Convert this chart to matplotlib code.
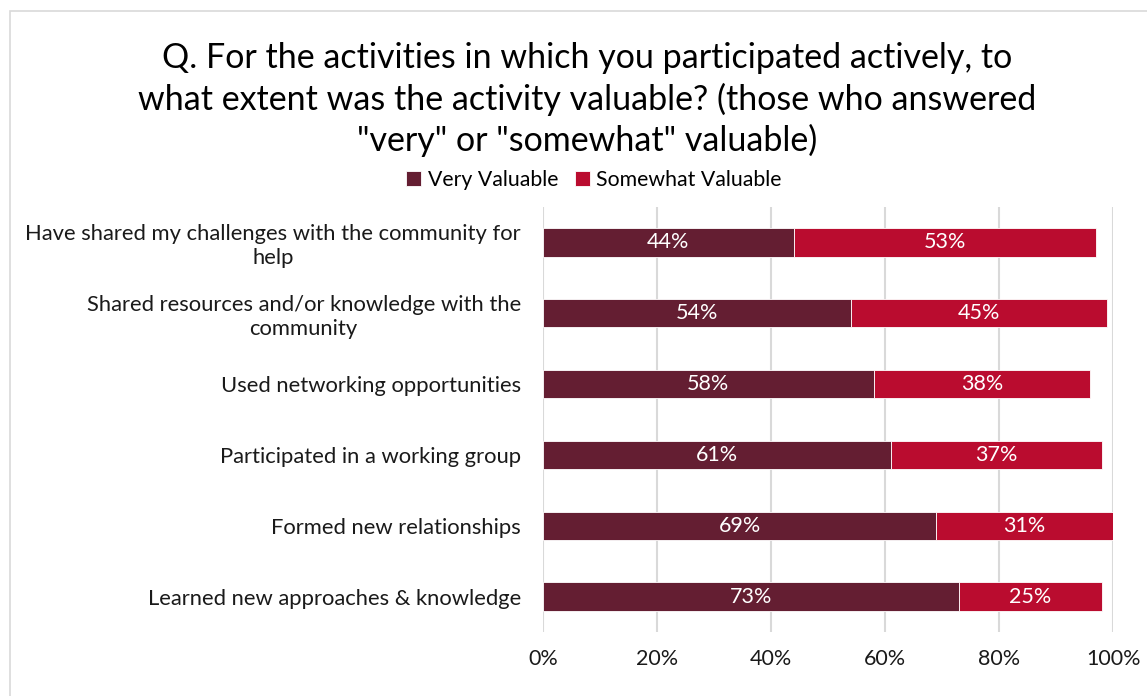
import matplotlib
matplotlib.use("Agg")
import matplotlib.pyplot as plt
from matplotlib.patches import Rectangle

categories = [
    "Have shared my challenges with the community for\nhelp",
    "Shared resources and/or knowledge with the\ncommunity",
    "Used networking opportunities",
    "Participated in a working group",
    "Formed new relationships",
    "Learned new approaches & knowledge",
]
very_valuable = [44, 54, 58, 61, 69, 73]
somewhat_valuable = [53, 45, 38, 37, 31, 25]
series_names = ["Very Valuable", "Somewhat Valuable"]
x_ticks = [0, 20, 40, 60, 80, 100]
x_tick_labels = ["0%", "20%", "40%", "60%", "80%", "100%"]
title = ('Q. For the activities in which you participated actively, to\n'
         'what extent was the activity valuable? (those who answered\n'
         '"very" or "somewhat" valuable)')

plt.rcParams['font.family'] = ['Lato', 'DejaVu Sans']
dark = "#641E32"
red = "#BA0C2F"
text_color = "#1a1a1a"

fig = plt.figure(figsize=(11.47, 6.96), dpi=100)
fig.patch.set_facecolor("white")
fig.patches.append(Rectangle((10 / 1147, -0.05), 1.2, 1 - 11 / 696 + 0.05,
                             transform=fig.transFigure, fill=False,
                             edgecolor="#d9d9d9", linewidth=1.2))

ax = fig.add_axes([0.4734, 0.092, 0.4970, 0.6106])
y = list(range(len(categories)))[::-1]
h = 0.4
b1 = ax.barh(y, very_valuable, height=h, color=dark, edgecolor="white",
             linewidth=0.6, label=series_names[0], zorder=3)
b2 = ax.barh(y, somewhat_valuable, left=very_valuable, height=h, color=red,
             edgecolor="white", linewidth=0.6, label=series_names[1], zorder=3)

for bars, vals, lefts in ((b1, very_valuable, [0] * len(y)),
                          (b2, somewhat_valuable, very_valuable)):
    for yi, v, l in zip(y, vals, lefts):
        ax.text(l + v / 2, yi, f"{v}%", ha="center", va="center",
                color="white", fontsize=15.5, zorder=4)

ax.set_xlim(0, 100)
ax.set_ylim(-0.5, len(categories) - 0.5)
ax.set_xticks(x_ticks)
ax.set_xticklabels(x_tick_labels, fontsize=15.5, color=text_color)
ax.set_yticks(y)
ax.set_yticklabels(categories, fontsize=15.8, color=text_color,
                   multialignment="center")
for lbl in ax.get_yticklabels():
    lbl.set_linespacing(1.25)
ax.tick_params(axis="both", length=0)
ax.tick_params(axis="x", pad=12)
ax.tick_params(axis="y", pad=16)
ax.xaxis.grid(True, color="#d9d9d9", linewidth=1.5, zorder=0)
ax.set_axisbelow(True)
for s in ax.spines.values():
    s.set_visible(False)

fig.text(0.512, 0.939, title, ha="center", va="top", fontsize=24.5,
         color="black", linespacing=1.3)

fig.legend(handles=[b1, b2], labels=series_names, loc="center",
           bbox_to_anchor=(0.518, 0.742), ncol=2, frameon=False, fontsize=15.3,
           handlelength=0.7, handleheight=0.7, handletextpad=0.3,
           columnspacing=0.8)

fig.savefig("out.png", dpi=100)
